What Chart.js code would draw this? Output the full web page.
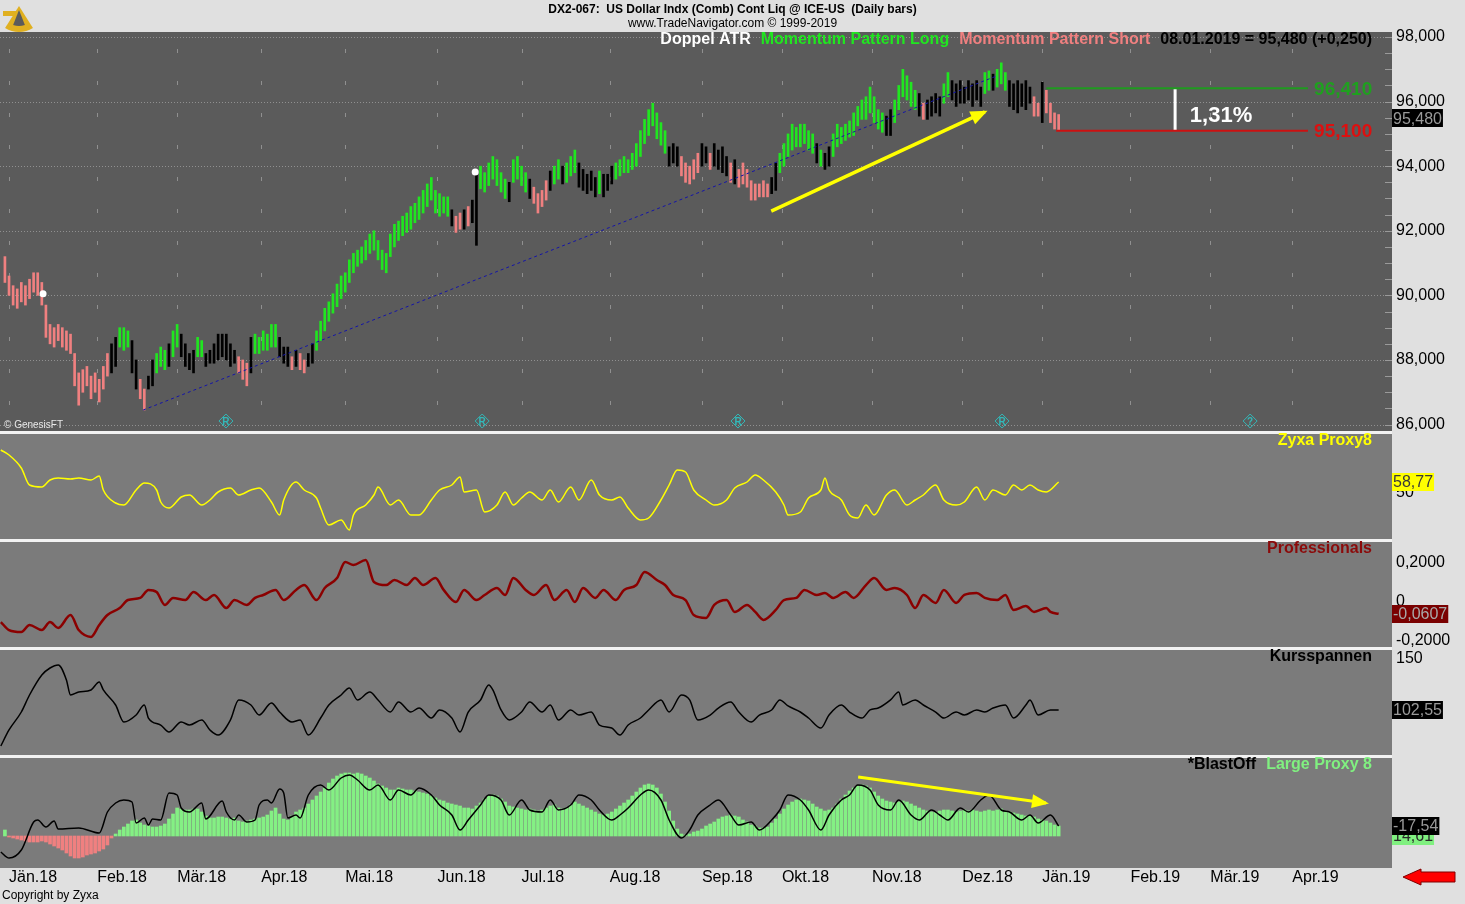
<!DOCTYPE html>
<html>
<head>
<meta charset="utf-8">
<title>DX2-067 US Dollar Index</title>
<script src="https://cdn.jsdelivr.net/npm/chart.js@4.4.1/dist/chart.umd.min.js"></script>
<style>
    html, body { margin: 0; padding: 0; background: #e0e0e0; }
    #wrap { position: relative; width: 1465px; height: 904px; }
    canvas { display: block; }
</style>
</head>
<body>
<div id="wrap"><canvas id="chart" width="1465" height="904"></canvas></div>
<script>
// --- Data (x values are trading-day indices, 0 = 02.01.2018) ---
const monthLabels = ['Jän.18', 'Feb.18', 'Mär.18', 'Apr.18', 'Mai.18', 'Jun.18', 'Jul.18', 'Aug.18',
    'Sep.18', 'Okt.18', 'Nov.18', 'Dez.18', 'Jän.19', 'Feb.19', 'Mär.19', 'Apr.19'];
const monthStartDays = [0, 21.5, 41, 61.5, 82, 104.5, 125, 146.5, 169, 188.5, 210.5, 232.5, 252, 273.5, 293, 313];

const priceTicks = [86, 88, 90, 92, 94, 96, 98];
const zyxaTicks = [50];
const proTicks = [0.2, 0, -0.2];
const kursTicks = [150];

const firstDay = -1;
const barHigh = [
    91.2, 90.6, 90.3, 90.2, 90.4, 90.3, 90.5, 90.7, 90.7, 90.4,
    89.7, 89.1, 89.0, 89.1, 89.0, 88.9, 88.8, 88.2, 87.6, 87.7,
    87.8, 87.5, 87.6, 87.4, 87.8, 88.2, 88.5, 88.7, 89.0, 89.0,
    88.9, 88.6, 88.0, 87.4, 87.1, 87.5, 88.0, 88.2, 88.4, 88.3,
    88.5, 88.9, 89.1, 88.8, 88.5, 88.2, 88.3, 88.7, 88.6, 88.2,
    88.3, 88.5, 88.8, 88.8, 88.8, 88.5, 88.3, 88.1, 88.0, 87.9,
    88.7, 88.8, 88.7, 88.9, 88.8, 89.1, 89.1, 88.7, 88.4, 88.4,
    88.1, 88.3, 88.2, 88.0, 88.2, 88.5, 88.9, 89.2, 89.6, 89.8,
    90.05, 90.35, 90.6, 90.7, 91.1, 91.3, 91.4, 91.5, 91.7, 91.9,
    92.0, 91.7, 91.4, 91.3, 91.9, 92.2, 92.3, 92.45, 92.55, 92.75,
    92.85, 93.05, 93.25, 93.45, 93.65, 93.25, 93.15, 93.05, 93.05, 92.65,
    92.45, 92.55, 92.65, 92.75, 92.95, 93.8, 94.0, 93.8, 94.1, 94.3,
    94.2, 93.8, 93.6, 93.5, 94.2, 94.3, 94.0, 93.8, 93.6, 93.35,
    93.15, 93.25, 93.55, 93.85, 94.0, 94.2, 94.0, 94.1, 94.3, 94.5,
    94.1, 93.9, 93.75, 93.85, 93.65, 93.85, 93.75, 93.75, 94.0, 94.1,
    94.2, 94.3, 94.2, 94.4, 94.7, 95.1, 95.45, 95.75, 95.95, 95.65,
    95.35, 95.1, 94.6, 94.7, 94.6, 94.3, 94.1, 94.0, 94.2, 94.4,
    94.7, 94.6, 94.4, 94.7, 94.5, 94.6, 94.3, 94.1, 94.2, 93.9,
    94.1, 93.9, 93.55, 93.45, 93.45, 93.55, 93.45, 93.65, 94.1, 94.4,
    94.7, 95.0, 95.3, 95.2, 95.3, 95.3, 95.1, 95.0, 94.7, 94.5,
    94.4, 94.6, 95.0, 95.3, 95.2, 95.3, 95.4, 95.65, 95.85, 96.05,
    96.15, 96.45, 96.15, 95.75, 95.65, 95.55, 95.75, 96.05, 96.5, 97.0,
    96.8, 96.6, 96.35, 96.25, 95.95, 96.05, 96.15, 96.25, 96.15, 96.55,
    96.9, 96.65, 96.55, 96.65, 96.45, 96.65, 96.55, 96.65, 96.45, 96.9,
    96.95, 96.85, 97.0, 97.2, 96.9, 96.65, 96.55, 96.65, 96.55, 96.65,
    96.45, 96.15, 95.95, 96.6, 96.35, 95.95, 95.65, 95.6
];
const barLow = [
    90.4, 90.0, 89.7, 89.6, 89.8, 89.7, 89.9, 90.1, 90.0, 89.7,
    88.7, 88.5, 88.4, 88.6, 88.4, 88.3, 88.2, 87.2, 86.6, 87.0,
    87.2, 86.8, 87.0, 86.7, 87.1, 87.5, 87.6, 87.8, 88.4, 88.3,
    88.4, 87.6, 87.1, 86.8, 86.45, 87.1, 87.2, 87.6, 87.8, 87.7,
    87.8, 88.1, 88.4, 88.1, 87.8, 87.7, 87.6, 88.1, 88.1, 87.8,
    87.9, 87.9, 88.0, 88.1, 88.0, 87.8, 87.9, 87.6, 87.4, 87.2,
    87.6, 88.2, 88.2, 88.3, 88.3, 88.4, 88.4, 88.1, 87.9, 87.8,
    87.7, 87.8, 87.7, 87.6, 87.8, 87.9, 88.3, 88.6, 88.9, 89.2,
    89.45, 89.65, 89.9, 90.1, 90.4, 90.7, 90.9, 91.0, 91.1, 91.3,
    91.4, 91.1, 90.8, 90.7, 91.2, 91.5, 91.7, 91.85, 91.95, 92.05,
    92.25, 92.35, 92.55, 92.75, 92.95, 92.55, 92.45, 92.55, 92.45, 92.15,
    91.95, 92.05, 92.05, 92.15, 92.25, 91.55, 93.3, 93.2, 93.4, 93.6,
    93.4, 93.2, 93.0, 92.9, 93.5, 93.6, 93.4, 93.2, 93.0, 92.85,
    92.55, 92.75, 92.95, 93.25, 93.45, 93.6, 93.45, 93.5, 93.7, 93.8,
    93.35, 93.25, 93.15, 93.25, 93.05, 93.15, 93.05, 93.25, 93.45, 93.6,
    93.7, 93.8, 93.8, 93.9, 94.0, 94.3, 94.7, 94.95, 95.25, 94.85,
    94.65, 94.4, 94.0, 94.1, 94.0, 93.7, 93.5, 93.45, 93.6, 93.8,
    94.0, 94.1, 93.9, 94.0, 93.9, 93.8, 93.7, 93.5, 93.45, 93.35,
    93.45, 93.35, 92.95, 92.95, 93.05, 93.05, 93.05, 93.15, 93.25, 93.8,
    94.0, 94.3, 94.5, 94.6, 94.6, 94.7, 94.5, 94.4, 94.1, 94.0,
    93.9, 94.0, 94.3, 94.6, 94.7, 94.8, 94.9, 94.95, 95.25, 95.45,
    95.45, 95.65, 95.35, 95.15, 95.05, 94.95, 94.95, 95.35, 95.75, 96.15,
    96.05, 95.85, 95.75, 95.55, 95.45, 95.45, 95.55, 95.65, 95.55, 95.95,
    96.15, 96.05, 95.85, 95.95, 95.95, 96.05, 95.85, 96.05, 95.85, 96.25,
    96.35, 96.35, 96.45, 96.55, 96.35, 95.85, 95.75, 95.65, 95.85, 95.75,
    95.95, 95.55, 95.55, 95.35, 95.65, 95.35, 95.15, 95.1
];
// g = Momentum Pattern Long, r = Momentum Pattern Short, k = neutral
const barState = ('rrrrrrrrrr' + 'rrrrrrrrrr' + 'rrrrrr' +
    'kkgggkkrrkkgggkggkkkkgg' +
    'kkkkkkkkrrrkggggggkkkrkrrkk' +
    'gggggggggg' + 'gggggggggg' + 'gggggggggg' + 'ggg' +
    'krrkrkkgggggggkggggkrrrr' +
    'kggkgggkkkkkgkkk' +
    'ggggggggggggg' +
    'kkkrrrrrkkrkkkkrkrrrrrrrrkk' +
    'gggggggggkgkk' +
    'ggggggggggggg' +
    'kkggggggkrkkkkggkkkkkkkkggkgggkkkkkkrrkrrrr').split('');
const lastClose = 95.48;

const zyxaProxy = [
    [-2, 84.4], [0, 80.4], [3, 70], [5, 56.4], [8, 54.8], [10, 60.4], [12, 62], [15, 61.2], [17, 62], [20, 60.4],
    [22, 63.6], [23, 52.4], [26, 42], [28, 40.4], [31, 52.4], [33, 58], [36, 52.4], [37, 42.8], [39, 38], [42, 46.8],
    [44, 48.4], [47, 40.4], [49, 44.4], [51, 50.8], [54, 54], [56, 48.4], [59, 52.4], [61, 54], [64, 42.8], [66, 32.4],
    [67, 44.4], [70, 58.8], [72, 52.4], [75, 46], [76, 38], [78, 24.4], [81, 28.4], [83, 20.4], [84, 32.4], [87, 40.4],
    [89, 48.4], [90, 54.8], [93, 40.4], [95, 44.4], [98, 32.4], [100, 32.4], [103, 44.4], [105, 52.4], [108, 56.4], [110, 62.8],
    [111, 50.8], [114, 52.4], [116, 34.8], [119, 40.4], [121, 50.8], [123, 40.4], [125, 46], [127, 50.8], [130, 44.4], [132, 52.4],
    [134, 42.8], [137, 54.8], [139, 44.4], [142, 60.4], [144, 48.4], [147, 44.4], [149, 46.8], [151, 38], [154, 28.4], [156, 30],
    [159, 44.4], [161, 56.4], [163, 68.4], [165, 66.8], [167, 52.4], [170, 44.4], [172, 40.4], [175, 44.4], [177, 54], [180, 58.8],
    [182, 64.4], [184, 60.4], [187, 50.8], [189, 40.4], [190, 32.4], [193, 34.8], [195, 46], [198, 52.4], [199, 62], [200, 52.4],
    [203, 44.4], [205, 32.4], [207, 30], [209, 40.4], [211, 32.4], [214, 48.4], [216, 52.4], [219, 40.4], [221, 44.4], [223, 48.4],
    [226, 56.4], [228, 44.4], [231, 40.4], [233, 42.8], [236, 54.8], [238, 44.4], [240, 52.4], [243, 48.4], [245, 56.4], [247, 52.4],
    [249, 56.4], [251, 52.4], [253, 50.8], [256, 58.77]
];

const professionals = [
    [-2, -0.103], [0, -0.144], [3, -0.154], [5, -0.118], [8, -0.144], [10, -0.103], [12, -0.133], [15, -0.067], [17, -0.144], [20, -0.179],
    [22, -0.118], [24, -0.067], [27, -0.031], [29, 0.010], [32, 0.021], [34, 0.062], [36, 0.051], [38, -0.015], [40, 0.021], [43, 0.010],
    [45, 0.051], [48, 0.010], [50, 0.036], [53, -0.031], [55, 0.010], [58, -0.015], [60, 0.021], [62, 0.036], [65, 0.062], [67, 0.010],
    [70, 0.062], [72, 0.087], [75, 0.010], [77, 0.072], [80, 0.123], [82, 0.205], [84, 0.190], [87, 0.215], [89, 0.103], [92, 0.087],
    [94, 0.113], [97, 0.087], [99, 0.123], [101, 0.087], [104, 0.123], [106, 0.062], [109, 0.000], [111, 0.062], [114, 0.010], [116, 0.036],
    [119, 0.072], [121, 0.036], [123, 0.123], [126, 0.062], [128, 0.036], [131, 0.087], [133, 0.010], [136, 0.062], [138, 0.000], [140, 0.072],
    [143, 0.021], [145, 0.062], [148, 0.010], [150, 0.062], [153, 0.087], [155, 0.154], [158, 0.113], [160, 0.087], [162, 0.036], [165, 0.010],
    [167, -0.067], [170, -0.082], [172, -0.015], [175, 0.010], [177, -0.051], [180, -0.015], [182, -0.051], [184, -0.092], [187, -0.041], [189, 0.010],
    [192, 0.021], [194, 0.062], [197, 0.036], [199, 0.046], [201, 0.021], [204, 0.051], [206, 0.021], [209, 0.087], [211, 0.123], [214, 0.062],
    [216, 0.072], [219, 0.036], [221, -0.031], [223, 0.036], [226, -0.005], [228, 0.062], [231, -0.005], [233, 0.036], [236, 0.046], [238, 0.021],
    [241, 0.010], [243, 0.036], [245, -0.041], [248, -0.021], [250, -0.051], [253, -0.031], [254, -0.051], [256, -0.0607]
];

const kursspannen = [
    [-2, 69.1], [0, 84.0], [3, 100.7], [5, 116.5], [8, 135.1], [10, 141.6], [12, 144.4], [14, 130.5], [15, 116.5], [17, 119.3],
    [20, 121.2], [22, 128.6], [23, 121.2], [26, 107.2], [28, 91.4], [31, 97.9], [33, 107.2], [34, 95.1], [37, 88.6], [39, 82.1],
    [42, 91.4], [44, 88.6], [47, 93.3], [49, 84.0], [51, 79.3], [54, 93.3], [56, 111.9], [59, 107.2], [61, 97.9], [64, 109.1],
    [66, 100.7], [69, 91.4], [71, 93.3], [73, 79.3], [76, 95.1], [78, 107.2], [81, 116.5], [83, 123.0], [85, 111.9], [88, 119.3],
    [90, 111.9], [93, 100.7], [95, 110.0], [98, 100.7], [100, 104.4], [103, 95.1], [105, 102.6], [108, 95.1], [110, 82.1], [112, 100.7],
    [115, 111.9], [117, 125.8], [118, 121.2], [120, 102.6], [122, 93.3], [125, 100.7], [127, 110.0], [130, 100.7], [132, 107.2], [134, 93.3],
    [137, 102.6], [139, 97.9], [142, 100.7], [144, 88.6], [147, 85.8], [149, 79.3], [151, 88.6], [154, 95.1], [156, 102.6], [159, 111.9],
    [161, 100.7], [164, 116.5], [166, 111.9], [168, 93.3], [171, 97.9], [173, 104.4], [176, 110.0], [178, 100.7], [181, 91.4], [183, 97.9],
    [186, 102.6], [188, 111.9], [190, 106.3], [193, 100.7], [195, 95.1], [198, 85.8], [200, 97.9], [203, 107.2], [205, 100.7], [208, 95.1],
    [210, 102.6], [212, 104.4], [215, 111.9], [217, 119.3], [218, 107.2], [221, 111.9], [223, 107.2], [226, 100.7], [228, 95.1], [231, 100.7],
    [233, 97.9], [236, 102.6], [238, 100.7], [240, 104.4], [243, 107.2], [245, 95.1], [248, 107.2], [249, 111.9], [251, 97.9], [254, 102.6],
    [256, 102.55]
];

const blastLine = [
    [-2, -16], [0, -22], [3, -14], [6, 14], [7, 16], [9, 9], [11, 15], [12, 7], [17, 8], [22, 3],
    [24, 24], [26, 33], [28, 36], [30, 34], [31, 13], [33, 18], [34, 11], [35, 17], [37, 16], [39, 43],
    [41, 41], [42, 28], [44, 24], [47, 33], [48, 17], [52, 35], [53, 24], [55, 16], [56, 21], [58, 14],
    [60, 16], [61, 31], [63, 36], [64, 33], [66, 47], [67, 43], [68, 18], [70, 21], [71, 18], [73, 41],
    [76, 51], [78, 46], [81, 58], [83, 61], [85, 56], [88, 46], [90, 51], [93, 36], [95, 46], [98, 41],
    [100, 48], [103, 41], [105, 31], [108, 21], [110, 6], [112, 16], [115, 31], [117, 41], [120, 36], [122, 21],
    [125, 36], [127, 26], [130, 24], [132, 36], [134, 26], [137, 31], [139, 41], [142, 36], [144, 26], [147, 16],
    [149, 21], [151, 28], [154, 41], [156, 46], [159, 36], [161, 16], [164, -2], [166, 6], [168, 21], [171, 31],
    [173, 36], [176, 21], [178, 11], [181, 14], [183, 6], [186, 16], [188, 26], [190, 41], [193, 36], [195, 26],
    [198, 6], [200, 21], [203, 36], [205, 41], [207, 51], [210, 46], [212, 31], [215, 26], [217, 36], [220, 21],
    [222, 16], [225, 26], [227, 21], [229, 16], [232, 28], [234, 24], [237, 36], [239, 41], [242, 26], [244, 24],
    [247, 16], [249, 21], [251, 13], [254, 21], [256, 10]
];
const blastHist = [
    6, -1, -2, -3, -4, -5, -6, -6, -6, -5,
    -6, -8, -10, -12, -14, -17, -20, -22, -22, -21,
    -19, -18, -17, -15, -13, -9, -2, 2, 6, 9,
    12, 15, 16, 13, 11, 10, 9, 9, 10, 12,
    17, 22, 28, 27, 26, 26, 27, 27, 24, 20,
    18, 18, 19, 19, 18, 17, 18, 15, 14, 15,
    16, 17, 18, 19, 21, 25, 28, 22, 17, 16,
    20, 24, 26, 28, 32, 36, 40, 44, 48, 53,
    57, 60, 62, 63, 63, 62, 63, 62, 60, 58,
    55, 52, 50, 48, 46, 46, 48, 47, 46, 46,
    45, 44, 43, 42, 40, 38, 36, 35, 33, 32,
    31, 30, 28, 28, 27, 30, 33, 37, 40, 41,
    40, 37, 34, 30, 29, 28, 27, 26, 27, 26,
    25, 26, 28, 30, 31, 28, 27, 28, 31, 34,
    32, 30, 28, 26, 24, 22, 21, 22, 24, 27,
    30, 33, 36, 40, 44, 48, 51, 52, 51, 48,
    42, 34, 25, 15, 7, 2, 1, 2, 4, 5,
    7, 10, 12, 14, 17, 19, 20, 21, 20, 19,
    16, 14, 11, 10, 8, 8, 9, 13, 17, 22,
    27, 31, 34, 36, 37, 36, 35, 32, 29, 27,
    25, 26, 28, 32, 37, 41, 45, 48, 50, 51,
    50, 48, 44, 40, 37, 35, 34, 33, 34, 35,
    34, 32, 30, 28, 26, 25, 24, 24, 25, 26,
    26, 25, 24, 25, 26, 25, 26, 25, 24, 25,
    26, 25, 26, 27, 25, 24, 23, 22, 21, 20,
    20, 19, 17, 16, 15, 13, 11, 10
];
const blastLineLabel = '-17,54';
const blastHistLabel = '14,61';

// drawn-in annotations, in data units
const trendLine = [[32.7, 86.45], [241, 96.8]];
const whiteDots = [[8.3, 90.05], [113.7, 93.82]];
const priceArrow = [[185.9, 92.61], [238, 95.68]];
const blastArrow = [[207.1, 59], [252.9, 33]];
const levelHigh = [[253, 96.41], [316.8, 96.41]];
const levelLow = [[255.4, 95.10], [316.8, 95.10]];
const rangeBar = [[284.4, 96.41], [284.4, 95.10]];
const rangeText = '1,31%';
const markerDays = [52.9, 115.4, 177.8, 242.2, 302.7];
const markerLetters = ['R', 'R', 'R', 'R', '?'];
const markerLevel = 86.11;

// --- Helpers ---
const FONT = 'Arial, "Liberation Sans", sans-serif';
Chart.defaults.font.family = FONT;
const toPts = arr => arr.map(([x, y]) => ({ x, y }));
const comma = (v, d) => v.toFixed(d).replace('.', ',');
const stateColor = { g: '#20e620', k: '#000000', r: '#f08080' };

const panelScale = (weight, min, max, ticks, fmt) => ({
    type: 'linear', position: 'right', stack: 'panels', stackWeight: weight, min, max,
    grid: { display: false, drawTicks: false }, border: { display: false },
    afterBuildTicks: s => { s.ticks = ticks.map(v => ({ value: v })); },
    afterFit: s => { s.width = 73; },
    ticks: { display: ticks.length > 0, callback: fmt, color: '#000', padding: 4, font: { size: 16 } }
});

const lineSet = (data, yAxisID, color, width, extra) => Object.assign({
    type: 'line', data: toPts(data), yAxisID, borderColor: color, backgroundColor: color,
    borderWidth: width, pointRadius: 0, fill: false, order: 1
}, extra || {});

// --- Drawing plugin: panels, grid, labels, value boxes ---
const panelIds = ['yMain', 'yZyxa', 'yPro', 'yKurs', 'yBlast'];

function drawBox(ctx, text, y, bg, fg) {
    ctx.font = '16px ' + FONT;
    const w = ctx.measureText(text).width + 2;
    ctx.fillStyle = bg;
    ctx.fillRect(1392, Math.round(y) - 9, w, 18);
    ctx.fillStyle = fg;
    ctx.textAlign = 'left';
    ctx.textBaseline = 'middle';
    ctx.fillText(text, 1393, y + 1);
}

function drawRightText(ctx, parts, right, y, font, gap) {
    ctx.font = font;
    ctx.textBaseline = 'middle';
    ctx.textAlign = 'left';
    let x = right;
    for (let i = parts.length - 1; i >= 0; i--) {
        x -= ctx.measureText(parts[i].t).width;
        ctx.fillStyle = parts[i].c;
        ctx.fillText(parts[i].t, x, y);
        x -= gap;
    }
}

const panelPlugin = {
    id: 'panels',
    beforeDraw(chart) {
        const { ctx, chartArea: a, scales } = chart;
        ctx.save();
        ctx.fillStyle = '#e0e0e0';
        ctx.fillRect(0, 0, chart.width, chart.height);
        panelIds.forEach(id => {
            const s = scales[id];
            ctx.fillStyle = id === 'yMain' ? '#5b5b5b' : '#7b7b7b';
            ctx.fillRect(a.left, s.top, a.right - a.left, s.bottom - s.top);
        });
        // small logo
        ctx.fillStyle = '#e0b020';
        ctx.beginPath();
        ctx.moveTo(19, 6);
        ctx.arc(19, 6, 26, Math.PI * 0.32, Math.PI * 0.68);
        ctx.closePath();
        ctx.fill();
        ctx.fillRect(3, 11, 14, 5);
        ctx.fillStyle = '#5b5b5b';
        ctx.beginPath();
        ctx.moveTo(19, 10);
        ctx.arc(19, 10, 16, Math.PI * 0.38, Math.PI * 0.62);
        ctx.closePath();
        ctx.fill();
        ctx.restore();
    },
    beforeDatasetsDraw(chart) {
        const { ctx, chartArea: a, scales } = chart;
        const m = scales.yMain, x = scales.x;
        ctx.save();
        ctx.strokeStyle = '#909090';
        ctx.lineWidth = 1;
        ctx.setLineDash([1, 2]);
        priceTicks.forEach(v => {
            const y = Math.round(m.getPixelForValue(v)) + 0.5;
            ctx.beginPath(); ctx.moveTo(a.left, y); ctx.lineTo(a.right, y); ctx.stroke();
        });
        ctx.setLineDash([4, 28]);
        monthStartDays.forEach(d => {
            const px = Math.round(x.getPixelForValue(d)) + 0.5;
            ctx.beginPath(); ctx.moveTo(px, m.top + 17); ctx.lineTo(px, m.bottom); ctx.stroke();
        });
        ctx.setLineDash([]);
        ctx.strokeStyle = '#9a9a9a';
        for (let v = 86; v <= 98; v += 0.5) {
            const y = Math.round(m.getPixelForValue(v)) + 0.5;
            ctx.beginPath(); ctx.moveTo(a.right - 7, y); ctx.lineTo(a.right, y); ctx.stroke();
        }
        ctx.restore();
    },
    afterDatasetsDraw(chart) {
        const { ctx, chartArea: a, scales } = chart;
        const x = scales.x, m = scales.yMain;
        ctx.save();

        // arrow heads
        chart.data.datasets.forEach((ds, i) => {
            if (!ds.arrowHead) return;
            const pts = chart.getDatasetMeta(i).data;
            const p1 = pts[pts.length - 2], p2 = pts[pts.length - 1];
            const ang = Math.atan2(p2.y - p1.y, p2.x - p1.x);
            ctx.fillStyle = ds.borderColor;
            ctx.beginPath();
            ctx.moveTo(p2.x + Math.cos(ang) * 3, p2.y + Math.sin(ang) * 3);
            ctx.lineTo(p2.x - Math.cos(ang) * 14 - Math.sin(ang) * 7, p2.y - Math.sin(ang) * 14 + Math.cos(ang) * 7);
            ctx.lineTo(p2.x - Math.cos(ang) * 14 + Math.sin(ang) * 7, p2.y - Math.sin(ang) * 14 - Math.cos(ang) * 7);
            ctx.closePath();
            ctx.fill();
        });

        // marker letters
        ctx.font = 'bold 10px ' + FONT;
        ctx.fillStyle = '#33b8b8';
        ctx.textAlign = 'center';
        ctx.textBaseline = 'middle';
        markerDays.forEach((d, i) => ctx.fillText(markerLetters[i], x.getPixelForValue(d), m.getPixelForValue(markerLevel) + 1));

        // separators between panels
        ctx.fillStyle = '#f2f2f2';
        panelIds.slice(1).forEach(id => ctx.fillRect(a.left, scales[id].top - 1, a.right - a.left, 3));

        // legend line of the price panel
        drawRightText(ctx, [
            { t: 'Doppel ATR', c: '#ffffff' },
            { t: 'Momentum Pattern Long', c: '#20e620' },
            { t: 'Momentum Pattern Short', c: '#f08080' },
            { t: '08.01.2019 = ' + comma(lastClose, 3) + ' (+0,250)', c: '#000000' }
        ], 1372, m.top + 8, 'bold 16px ' + FONT, 10);

        // panel titles
        drawRightText(ctx, [{ t: 'Zyxa Proxy8', c: '#ffff00' }], 1372, scales.yZyxa.top + 9, 'bold 16px ' + FONT, 0);
        drawRightText(ctx, [{ t: 'Professionals', c: '#8b0a0a' }], 1372, scales.yPro.top + 9, 'bold 16px ' + FONT, 0);
        drawRightText(ctx, [{ t: 'Kursspannen', c: '#000000' }], 1372, scales.yKurs.top + 9, 'bold 16px ' + FONT, 0);
        drawRightText(ctx, [{ t: '*BlastOff', c: '#000000' }, { t: 'Large Proxy 8', c: '#80f080' }],
            1372, scales.yBlast.top + 9, 'bold 16px ' + FONT, 10);

        // level labels
        ctx.textAlign = 'left';
        ctx.textBaseline = 'middle';
        ctx.font = 'bold 19px ' + FONT;
        ctx.fillStyle = '#1fa01f';
        ctx.fillText(comma(levelHigh[0][1], 3), x.getPixelForValue(318.3), m.getPixelForValue(levelHigh[0][1]) + 1);
        ctx.fillStyle = '#dd1010';
        ctx.fillText(comma(levelLow[0][1], 3), x.getPixelForValue(318.3), m.getPixelForValue(levelLow[0][1]) + 1);
        ctx.font = 'bold 22px ' + FONT;
        ctx.fillStyle = '#ffffff';
        ctx.fillText(rangeText, x.getPixelForValue(288), m.getPixelForValue(95.55));

        ctx.font = '10px ' + FONT;
        ctx.fillStyle = '#e8e8e8';
        ctx.fillText('© GenesisFT', a.left + 4, m.bottom - 7);

        // value boxes on the right axis
        drawBox(ctx, comma(lastClose, 3), m.getPixelForValue(lastClose), '#000000', '#9a9a9a');
        const zl = zyxaProxy[zyxaProxy.length - 1][1];
        drawBox(ctx, comma(zl, 2), scales.yZyxa.getPixelForValue(zl), '#ffff00', '#3a3a3a');
        const pl = professionals[professionals.length - 1][1];
        drawBox(ctx, comma(pl, 4), scales.yPro.getPixelForValue(pl), '#7a0000', '#a8a8a8');
        const kl = kursspannen[kursspannen.length - 1][1];
        drawBox(ctx, comma(kl, 2), scales.yKurs.getPixelForValue(kl), '#000000', '#9a9a9a');
        const bl = blastLine[blastLine.length - 1][1];
        drawBox(ctx, blastHistLabel, scales.yBlast.getPixelForValue(bl) + 10, '#80f080', '#2a2a2a');
        drawBox(ctx, blastLineLabel, scales.yBlast.getPixelForValue(bl), '#000000', '#9a9a9a');
        ctx.restore();
    },
    afterDraw(chart) {
        const { ctx } = chart;
        ctx.save();
        ctx.font = '12px ' + FONT;
        ctx.fillStyle = '#000';
        ctx.textAlign = 'left';
        ctx.textBaseline = 'middle';
        ctx.fillText('Copyright by Zyxa', 2, 896);
        // red arrow at the lower right
        ctx.fillStyle = '#ff0000';
        ctx.strokeStyle = '#800000';
        ctx.lineWidth = 1;
        ctx.beginPath();
        ctx.moveTo(1403, 877); ctx.lineTo(1421, 869); ctx.lineTo(1421, 872); ctx.lineTo(1455, 872);
        ctx.lineTo(1455, 882); ctx.lineTo(1421, 882); ctx.lineTo(1421, 885); ctx.closePath();
        ctx.fill(); ctx.stroke();
        ctx.restore();
    }
};

// --- Datasets ---
const priceBars = barHigh.map((h, k) => ({ x: firstDay + k, y: [barLow[k], h] }));
const priceColors = barState.map(s => stateColor[s] || '#000000');
const histPts = blastHist.map((v, k) => ({ x: firstDay + k, y: v }));

const datasets = [
    lineSet(priceArrow, 'yMain', '#ffff00', 3.5, { arrowHead: true, order: 0 }),
    lineSet(blastArrow, 'yBlast', '#ffff00', 3, { arrowHead: true, order: 0 }),
    lineSet(whiteDots, 'yMain', '#ffffff', 0, { showLine: false, pointRadius: 3.5, order: 0 }),
    lineSet(trendLine, 'yMain', '#1414a8', 1, { borderDash: [3, 3], order: 1 }),
    lineSet(levelHigh, 'yMain', '#1f9a1f', 2),
    lineSet(levelLow, 'yMain', '#cc1010', 2),
    lineSet(rangeBar, 'yMain', '#ffffff', 3),
    lineSet(markerDays.map(d => [d, markerLevel]), 'yMain', '#33b8b8', 1,
        { showLine: false, pointRadius: 7, pointStyle: 'rectRot', backgroundColor: 'rgba(0,0,0,0)' }),
    {
        type: 'bar', data: priceBars, yAxisID: 'yMain', backgroundColor: priceColors,
        barThickness: 2, grouped: false, borderWidth: 0, order: 3
    },
    lineSet(zyxaProxy, 'yZyxa', '#ffff00', 1.5, { cubicInterpolationMode: 'monotone', order: 2 }),
    lineSet(professionals, 'yPro', '#8b0000', 2.5, { cubicInterpolationMode: 'monotone', order: 2 }),
    lineSet(kursspannen, 'yKurs', '#000000', 1.5, { cubicInterpolationMode: 'monotone', order: 2 }),
    lineSet(blastLine, 'yBlast', '#000000', 1.5, { cubicInterpolationMode: 'monotone', order: 2 }),
    {
        type: 'bar', data: histPts, yAxisID: 'yBlast',
        backgroundColor: blastHist.map(v => v >= 0 ? '#84f084' : '#f08080'),
        barThickness: 3, grouped: false, borderWidth: 0, order: 5
    }
];

// --- Chart ---
new Chart(document.getElementById('chart'), {
    type: 'line',
    data: { datasets },
    options: {
        responsive: false,
        animation: false,
        events: [],
        layout: { padding: 0, autoPadding: false },
        plugins: {
            legend: { display: false },
            tooltip: { enabled: false },
            title: {
                display: true, text: 'DX2-067:  US Dollar Indx (Comb) Cont Liq @ ICE-US  (Daily bars)',
                color: '#000', font: { size: 12, weight: 'bold' }, padding: { top: 2, bottom: 0 }
            },
            subtitle: {
                display: true, text: 'www.TradeNavigator.com © 1999-2019',
                color: '#000', font: { size: 12 }, padding: { top: 0, bottom: 1.2 }
            }
        },
        scales: {
            x: {
                type: 'linear', min: -2.2, max: 337.3, offset: false,
                grid: { display: false, drawTicks: false }, border: { display: false },
                afterBuildTicks: s => { s.ticks = monthStartDays.map(v => ({ value: v })); },
                afterFit: s => { s.height = 36; },
                ticks: {
                    autoSkip: false, maxRotation: 0, align: 'start', padding: 0, color: '#000',
                    font: { size: 16 }, callback: (v, i) => monthLabels[i]
                }
            },
            yMain: panelScale(400, 85.77, 98.155, priceTicks, v => comma(v, 3)),
            yZyxa: panelScale(108, 12.4, 98.8, zyxaTicks, v => String(v)),
            yPro: panelScale(108, -0.236, 0.318, proTicks, v => v === 0 ? '0' : comma(v, 4)),
            yKurs: panelScale(108, 59.8, 160.2, kursTicks, v => String(v)),
            yBlast: panelScale(112, -32, 80, [], v => '')
        }
    },
    plugins: [panelPlugin]
});
</script>
</body>
</html>
